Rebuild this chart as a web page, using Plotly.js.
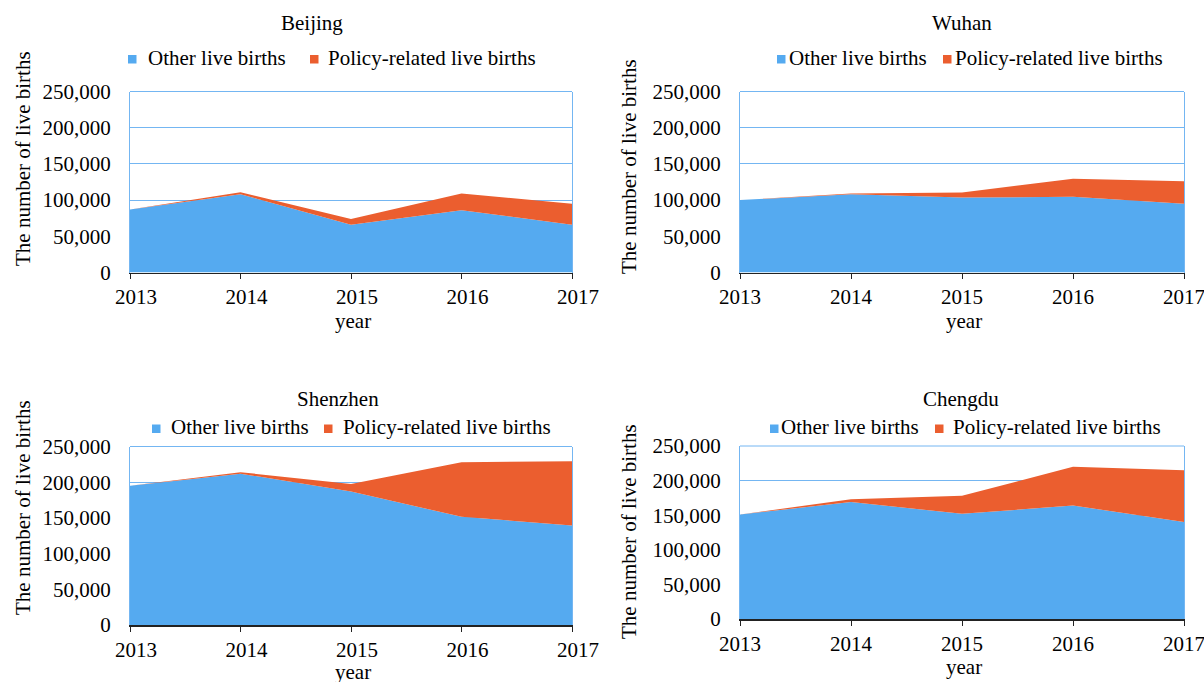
<!DOCTYPE html>
<html>
<head>
<meta charset="utf-8">
<script src="https://cdn.plot.ly/plotly-3.0.1.min.js"></script>
<style>html,body{margin:0;padding:0;background:#fff;}#chart{width:1204px;height:682px;}</style>
</head>
<body>
<div id="chart"></div>
<script>
// ---- data ----
const years = [2013, 2014, 2015, 2016, 2017];
const yTicks = [0, 50000, 100000, 150000, 200000, 250000];
const cities = ["Beijing", "Wuhan", "Shenzhen", "Chengdu"];
const seriesNames = ["Other live births", "Policy-related live births"];

const beijingOther  = [87000, 108000, 66000, 86000, 66000];
const beijingPolicy = [0, 3000, 8000, 23000, 29000];
const wuhanOther    = [100000, 108000, 103500, 104500, 95000];
const wuhanPolicy   = [0, 1000, 7000, 25000, 31000];
const shenzhenOther  = [195000, 212000, 187000, 151500, 139500];
const shenzhenPolicy = [0, 2000, 10500, 76500, 90000];
const chengduOther  = [151000, 169000, 152000, 164000, 140000];
const chengduPolicy = [0, 4000, 26000, 56000, 75000];

const yTitle = "The number of live births";
const xTitle = "year";

// ---- style ----
const W = 1204, H = 682;
const FONT = "Liberation Serif, Times New Roman, serif";
const BLUE = "#55aaf0", ORANGE = "#eb5e2f", GRID = "#74b6f2", AX = "#222222";
const px = v => v / W, py = v => 1 - v / H;

const panels = [
  {other: beijingOther,  policy: beijingPolicy,  x0: 130, x1: 572,  y0: 91.5,  y1: 272.5, shift: 6,
   title: [312, 23], leg: {b: [128, 55, 148], o: [310, 55, 328], ty: 58}, ytx: [23, 159], xty: 321},
  {other: wuhanOther,    policy: wuhanPolicy,    x0: 740, x1: 1184, y0: 91.5,  y1: 272.5, shift: 0,
   title: [962, 23], leg: {b: [777, 55, 789], o: [943, 55, 955], ty: 58}, ytx: [629, 167], xty: 321},
  {other: shenzhenOther, policy: shenzhenPolicy, x0: 130, x1: 572,  y0: 446.5, y1: 625, shift: 6,
   title: [338, 399], leg: {b: [152, 424.5, 171], o: [324, 424.5, 343], ty: 427}, ytx: [23, 508], xty: 672},
  {other: chengduOther,  policy: chengduPolicy,  x0: 740, x1: 1184, y0: 446,   y1: 619, shift: 0,
   title: [961, 399], leg: {b: [770, 424.5, 781], o: [935, 424.5, 953], ty: 427}, ytx: [629, 532], xty: 667}
];

const data = [];
const layout = {
  width: W, height: H,
  margin: {l: 0, r: 0, t: 0, b: 0},
  paper_bgcolor: "#ffffff", plot_bgcolor: "#ffffff",
  showlegend: false,
  font: {family: FONT, size: 21, color: "#000"},
  annotations: [], shapes: []
};

panels.forEach((p, i) => {
  const n = i === 0 ? "" : String(i + 1);
  const xa = "x" + n, ya = "y" + n;
  data.push({
    type: "scatter", x: years, y: p.other, xaxis: xa, yaxis: ya,
    name: seriesNames[0], stackgroup: "s" + i, mode: "lines",
    line: {width: 0, color: BLUE}, fillcolor: BLUE, hoverinfo: "x+y"
  });
  data.push({
    type: "scatter", x: years, y: p.policy, xaxis: xa, yaxis: ya,
    name: seriesNames[1], stackgroup: "s" + i, mode: "lines",
    line: {width: 0, color: ORANGE}, fillcolor: ORANGE, hoverinfo: "x+y"
  });
  layout["xaxis" + n] = {
    domain: [px(p.x0), px(p.x1)], anchor: ya, range: [years[0], years[years.length - 1]],
    tickvals: years, ticktext: years.map(String), ticks: "outside", ticklen: 5, tickcolor: AX, tickwidth: 1,
    showline: true, linecolor: AX, linewidth: 1.5, showgrid: false, zeroline: false,
    tickfont: {family: FONT, size: 21, color: "#000"}, ticklabelshift: p.shift, ticklabeloverflow: "allow",
    fixedrange: true
  };
  layout["yaxis" + n] = {
    domain: [py(p.y1), py(p.y0)], anchor: xa, range: [0, 250000],
    tickvals: yTicks, tickformat: ",", ticks: "", showgrid: true, gridcolor: GRID, gridwidth: 1,
    showline: true, mirror: true, linecolor: GRID, linewidth: 1, zeroline: false,
    tickfont: {family: FONT, size: 21, color: "#000"}, ticklabelstandoff: 14, fixedrange: true
  };
  // top border
  layout.shapes.push({type: "line", xref: xa + " domain", yref: ya + " domain", x0: 0, x1: 1, y0: 1, y1: 1,
    line: {color: GRID, width: 1}, layer: "above"});
  // title
  layout.annotations.push({text: cities[i], xref: "paper", yref: "paper", x: px(p.title[0]), y: py(p.title[1]),
    xanchor: "center", yanchor: "middle", showarrow: false, font: {family: FONT, size: 21, color: "#000"}});
  // legend
  [[p.leg.b, BLUE, seriesNames[0]], [p.leg.o, ORANGE, seriesNames[1]]].forEach(([l, c, t]) => {
    layout.shapes.push({type: "rect", xref: "paper", yref: "paper",
      x0: px(l[0]), x1: px(l[0] + 8.5), y0: py(l[1] + 8.5), y1: py(l[1]),
      fillcolor: c, line: {width: 0}});
    layout.annotations.push({text: t, xref: "paper", yref: "paper", x: px(l[2] - 2), y: py(p.leg.ty),
      xanchor: "left", yanchor: "middle", showarrow: false, font: {family: FONT, size: 21, color: "#000"}});
  });
  // axis titles
  layout.annotations.push({text: yTitle, xref: "paper", yref: "paper", x: px(p.ytx[0]), y: py(p.ytx[1]),
    xanchor: "center", yanchor: "middle", textangle: -90, showarrow: false, font: {family: FONT, size: 21, color: "#000"}});
  layout.annotations.push({text: xTitle, xref: "paper", yref: "paper", x: px((p.x0 + p.x1) / 2 + 2), y: py(p.xty),
    xanchor: "center", yanchor: "middle", borderpad: 0, showarrow: false, font: {family: FONT, size: 21, color: "#000"}});
});

Plotly.newPlot("chart", data, layout, {displayModeBar: false, staticPlot: true});
</script>
</body>
</html>
